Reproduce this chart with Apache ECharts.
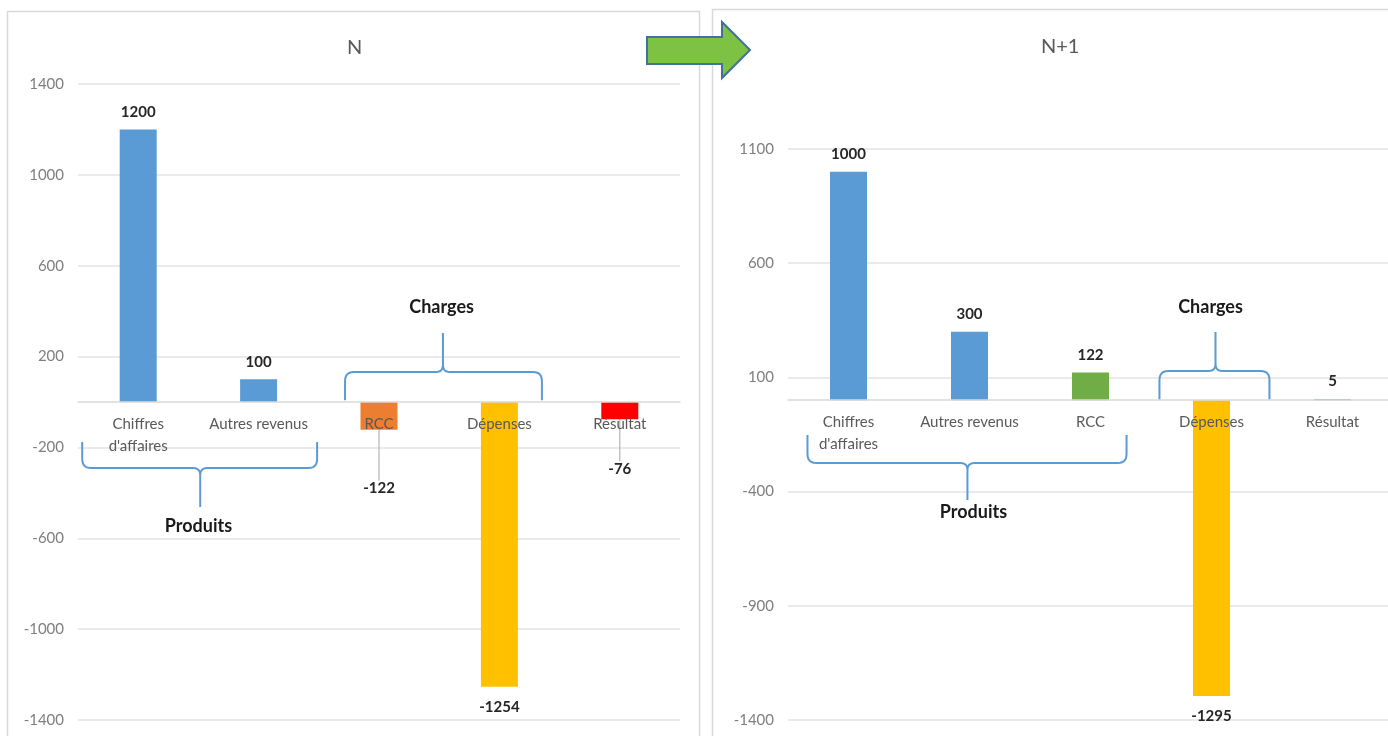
<!DOCTYPE html>
<html>
<head>
<meta charset="utf-8">
<script src="https://cdn.jsdelivr.net/npm/echarts@6/dist/echarts.min.js"></script>
<style>
html,body{margin:0;padding:0;background:#fff;}
#chart{width:1388px;height:736px;}
</style>
</head>
<body>
<div id="chart"></div>
<script>
// ---- data ----
var categories = ["Chiffres\nd'affaires", 'Autres revenus', 'RCC', 'Dépenses', 'Résultat'];
var valuesN = [1200, 100, -122, -1254, -76];
var valuesN1 = [1000, 300, 122, -1295, 5];
var ticksN = [-1400, -1000, -600, -200, 200, 600, 1000, 1400];
var ticksN1 = [-1400, -900, -400, 100, 600, 1100];
var rangeN = [-1400, 1400];
var rangeN1 = [-1400, 1100];
var titles = ['N', 'N+1'];
var groupLabels = ['Produits', 'Charges'];

// ---- styles ----
var colorsN = ['#5B9BD5', '#5B9BD5', '#ED7D31', '#FFC000', '#FF0000'];
var colorsN1 = ['#5B9BD5', '#5B9BD5', '#70AD47', '#FFC000', '#5B9BD5'];
var FONT = 'Lato, "Open Sans", sans-serif';
var leaderShift = { 0: { 2: 38, 4: 29 } }; // label shift (px) with leader line

function buildData(vals, colors, g) {
  return vals.map(function (v, i) {
    var shifted = leaderShift[g] && leaderShift[g][i];
    return {
      value: v,
      itemStyle: { color: colors[i] },
      label: { position: v >= 0 ? 'top' : 'bottom', distance: v >= 0 ? 10 : 13 },
      labelLine: { show: !!shifted, lineStyle: { color: '#A6A6A6', width: 1 } }
    };
  });
}

function yAxisFor(g, range, ticks) {
  return {
    type: 'value', gridIndex: g, min: range[0], max: range[1],
    axisLine: { show: false }, axisTick: { show: false, customValues: ticks },
    axisLabel: { customValues: ticks, color: '#7F7F7F', fontSize: 15, fontFamily: FONT, margin: 14,
      formatter: function (v) { return String(v); } },
    splitLine: { show: true, lineStyle: { color: '#E3E3E3', width: 1.5 } }
  };
}
function xAxisFor(g, offset) {
  return {
    type: 'category', gridIndex: g, data: categories, z: 5, position: 'bottom', offset: offset || 0,
    axisLine: { onZero: false, lineStyle: { color: '#D9D9D9', width: 1.5 } },
    axisTick: { show: false },
    axisLabel: { interval: 0, color: '#595959', fontSize: 15, lineHeight: 22, fontFamily: FONT, margin: 11 }
  };
}
function seriesFor(g, vals, colors) {
  return {
    type: 'bar', xAxisIndex: g, yAxisIndex: g, barWidth: 37,
    data: buildData(vals, colors, g),
    label: { show: true, distance: 10, color: '#262626', fontWeight: 'bold', fontSize: 15, fontFamily: FONT },
    labelLayout: function (p) {
      var s = leaderShift[p.seriesIndex];
      return s && s[p.dataIndex] ? { dy: s[p.dataIndex] } : {};
    }
  };
}

var chart = echarts.init(document.getElementById('chart'), null, { renderer: 'canvas' });

var option = {
  backgroundColor: '#ffffff',
  animation: false,
  textStyle: { fontFamily: FONT },
  title: [
    { text: titles[0], left: 342, top: 33, textStyle: { color: '#595959', fontSize: 20, fontWeight: 'normal', fontFamily: FONT } },
    { text: titles[1], left: 1036, top: 32, textStyle: { color: '#595959', fontSize: 20, fontWeight: 'normal', fontFamily: FONT } }
  ],
  grid: [
    { left: 78, top: 84, width: 602, height: 636, containLabel: false, outerBoundsMode: 'none' },
    { left: 788, top: 149, width: 605, height: 571, containLabel: false, outerBoundsMode: 'none' }
  ],
  xAxis: [xAxisFor(0), xAxisFor(1)],
  yAxis: [yAxisFor(0, rangeN, ticksN), yAxisFor(1, rangeN1, ticksN1)],
  series: [seriesFor(0, valuesN, colorsN), seriesFor(1, valuesN1, colorsN1)],
  graphic: [
    { type: 'rect', id: 'panelL', z: -10, shape: { x: 7.5, y: 11.5, width: 692, height: 740 }, style: { fill: '#fff', stroke: '#D9D9D9', lineWidth: 1.5 } },
    { type: 'rect', id: 'panelR', z: -10, shape: { x: 712.5, y: 9.5, width: 690, height: 740 }, style: { fill: '#fff', stroke: '#D9D9D9', lineWidth: 1.5 } },
    { type: 'polygon', id: 'arrow', z: 20,
      shape: { points: [[647, 37], [722, 37], [722, 22], [750, 50], [722, 78], [722, 64], [647, 64]] },
      style: { fill: '#7DC242', stroke: '#41719C', lineWidth: 2 } }
  ]
};
chart.setOption(option);

// move category axes (line + labels) up to the value 0 of each grid
function yPx(g, v) { return chart.convertToPixel({ yAxisIndex: g }, v); }
var offN = yPx(0, 0) - yPx(0, rangeN[0]);
var offN1 = yPx(1, 0) - yPx(1, rangeN1[0]);
chart.setOption({ xAxis: [xAxisFor(0, offN), xAxisFor(1, offN1)] });

// ---- annotation braces (anchored in data units: category index / value) ----
var braces = [
  { g: 0, dir: 'down', x0: 1.718, x1: 3.353, xm: 2.531, yb: 8, yh: 132, tip: 304, tx: 2.52, ty: 418, text: groupLabels[1] },
  { g: 0, dir: 'up', x0: -0.465, x1: 1.486, xm: 0.515, yb: -176, yh: -291, tip: -462, tx: 0.5, ty: -546, text: groupLabels[0] },
  { g: 1, dir: 'up', x0: -0.339, x1: 2.298, xm: 0.983, yb: -152, yh: -275, tip: -437, tx: 1.033, ty: -489, text: groupLabels[0] },
  { g: 1, dir: 'down', x0: 2.570, x1: 3.479, xm: 3.033, yb: 4, yh: 128, tip: 299, tx: 2.992, ty: 407, text: groupLabels[1] }
];

function toPx(g, idx, val) {
  var a = chart.convertToPixel({ xAxisIndex: g, yAxisIndex: g }, [0, val]);
  var b = chart.convertToPixel({ xAxisIndex: g, yAxisIndex: g }, [1, val]);
  return [a[0] + (b[0] - a[0]) * idx, a[1]];
}
function quad(p0, c, p1, n, out) {
  for (var k = 1; k <= n; k++) {
    var t = k / n, u = 1 - t;
    out.push([u * u * p0[0] + 2 * u * t * c[0] + t * t * p1[0], u * u * p0[1] + 2 * u * t * c[1] + t * t * p1[1]]);
  }
}
function bracePoints(b) {
  var L = toPx(b.g, b.x0, b.yb), R = toPx(b.g, b.x1, b.yb);
  var H = toPx(b.g, b.x0, b.yh)[1];
  var M = toPx(b.g, b.xm, b.tip);
  var s = (b.dir === 'down') ? 1 : -1;
  var r = 9, r2 = 7;
  var pts = [[L[0], L[1]], [L[0], H + s * r]];
  quad([L[0], H + s * r], [L[0], H], [L[0] + r, H], 6, pts);
  pts.push([M[0] - r2, H]);
  quad([M[0] - r2, H], [M[0], H], [M[0], H - s * r2], 6, pts);
  pts.push([M[0], M[1]]);
  pts.push([M[0], H - s * r2]);
  quad([M[0], H - s * r2], [M[0], H], [M[0] + r2, H], 6, pts);
  pts.push([R[0] - r, H]);
  quad([R[0] - r, H], [R[0], H], [R[0], H + s * r], 6, pts);
  pts.push([R[0], R[1]]);
  return pts;
}
var g2 = [];
braces.forEach(function (b, i) {
  g2.push({ type: 'polyline', id: 'brace' + i, z: 10, shape: { points: bracePoints(b) },
    style: { stroke: '#5B9BD5', lineWidth: 2, fill: null } });
  var tp = toPx(b.g, b.tx, b.ty);
  g2.push({ type: 'text', id: 'bt' + i, z: 10, x: tp[0], y: tp[1],
    style: { text: b.text, fill: '#1a1a1a', font: 'bold 18px ' + FONT, align: 'center', verticalAlign: 'middle' } });
});
chart.setOption({ graphic: g2 });
</script>
</body>
</html>
